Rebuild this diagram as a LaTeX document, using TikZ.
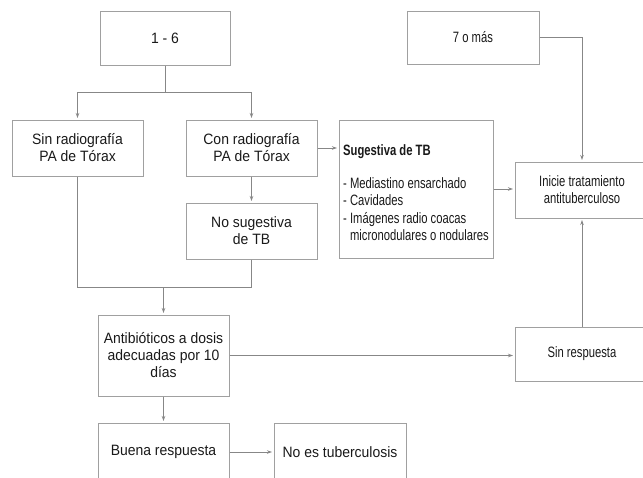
\documentclass[tikz,border=0pt]{standalone}
\usepackage{fontspec}
\setmainfont[FakeStretch=0.93]{Liberation Sans}
\newfontfamily\condfont[FakeStretch=0.75]{Liberation Sans}
\usetikzlibrary{arrows.meta}
\definecolor{boxgray}{RGB}{160,160,160}
\definecolor{linegray}{RGB}{135,135,135}
\definecolor{txt}{RGB}{25,25,25}
\begin{document}
\begin{tikzpicture}[x=1pt,y=-1pt,
  box/.style={draw=boxgray, line width=1pt, rectangle, inner sep=2pt, align=center,
    text=txt, font=\fontsize{15}{17}\selectfont},
  cbox/.style={box, font=\condfont\fontsize{15}{17}\selectfont},
  conn/.style={draw=linegray, line width=0.9pt},
  arr/.style={conn, -{Stealth[length=5pt,width=3.5pt]}, shorten >=1.5pt}]
\path[use as bounding box] (0,0) rectangle (643,477);

\node[box, minimum width=130pt, minimum height=54pt] (n16) at (165,38) {1 - 6};
\node[cbox, minimum width=132pt, minimum height=53pt] (siete) at (473,37.5) {7 o más};
\node[box, minimum width=131pt, minimum height=56pt] (sin) at (77.5,148) {Sin radiografía\\PA de Tórax};
\node[box, minimum width=131pt, minimum height=56pt] (con) at (251.5,148) {Con radiografía\\PA de Tórax};
\node[box, minimum width=131pt, minimum height=56pt] (nosug) at (251.5,231) {No sugestiva\\de TB};
\node[box, minimum width=154pt, minimum height=138pt] (sug) at (416,189) {};
\node[anchor=north west, inner sep=0pt, align=left, text=txt,
  font=\condfont\fontsize{15}{17.5}\selectfont] (sugtxt) at (343,144)
  {{\bfseries Sugestiva de TB}\\[15.5pt]
   - Mediastino ensarchado\\
   - Cavidades\\
   - Imágenes radio coacas\\
   \phantom{- }micronodulares o nodulares};
\node[cbox, minimum width=134pt, minimum height=56pt] (inicie) at (582,190) {Inicie tratamiento\\antituberculoso};
\node[cbox, minimum width=134pt, minimum height=54pt] (sinresp) at (582,354) {Sin respuesta};
\node[box, minimum width=131pt, minimum height=81pt] (antib) at (163.5,355.5) {Antibióticos a dosis\\adecuadas por 10\\días};
\node[box, minimum width=131pt, minimum height=58pt] (buena) at (163.5,452) {Buena respuesta};
\node[box, minimum width=132pt, minimum height=58pt] (noes) at (340,452) {No es tuberculosis};

\coordinate (split) at (165,92);
\coordinate (join) at (163.5,287);

\draw[conn] (n16.south) -- (split);
\draw[arr] (split) -| (sin.north);
\draw[arr] (split) -| (con.north);
\draw[arr] (con.east) -- (con.east -| sug.west);
\draw[arr] (con.south) -- (nosug.north);
\draw[conn] (sin.south) |- (join);
\draw[conn] (nosug.south) |- (join);
\draw[arr] (join) -- (antib.north);
\draw[arr] (antib.south) -- (buena.north);
\draw[arr] (buena.east) -- (noes.west);
\draw[arr] (antib.east) -- (antib.east -| sinresp.west);
\draw[arr] (sinresp.north) -- (inicie.south);
\draw[arr] (sug.east) -- (sug.east -| inicie.west);
\draw[arr] (siete.east) -| (inicie.north);
\end{tikzpicture}
\end{document}
